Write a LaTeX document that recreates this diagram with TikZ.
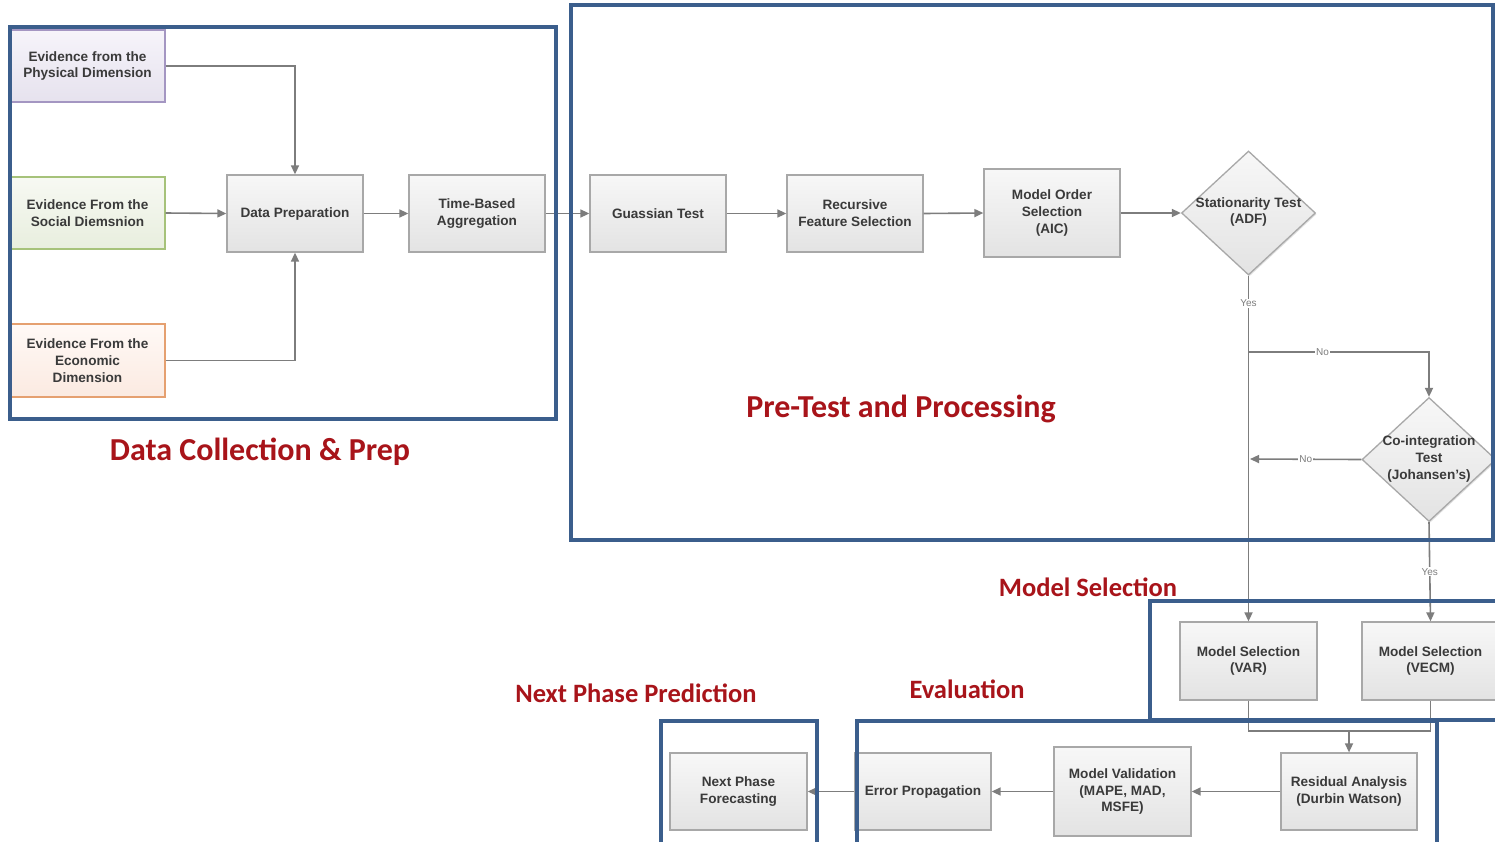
\documentclass[tikz,border=0pt]{standalone}
\usepackage{fontspec}
\setmainfont{Liberation Sans}
\newfontfamily\titlefont{Carlito}
\usetikzlibrary{arrows.meta,shapes.geometric,shadows}

\definecolor{framebl}{RGB}{59,94,140}
\definecolor{tred}{RGB}{168,20,26}
\definecolor{lnk}{RGB}{125,125,125}
\definecolor{bgray}{RGB}{168,168,168}
\definecolor{txtgray}{RGB}{58,58,58}

\tikzset{
  stepbox/.style={draw=bgray, line width=1.3pt, top color=white!97!black, bottom color=white!89!black,
    minimum width=136pt, minimum height=77pt, inner sep=2pt, align=center,
    font=\bfseries\fontsize{13.6}{16.8}\selectfont, text=txtgray,
    drop shadow={shadow xshift=1.2pt, shadow yshift=-1.2pt, opacity=0.25}},
  srcbox/.style={stepbox, minimum width=155pt, minimum height=72pt},
  decision/.style={diamond, draw=bgray, line width=1.3pt, top color=white!97!black, bottom color=white!89!black,
    minimum width=134pt, minimum height=124pt, inner sep=0pt,
    drop shadow={shadow xshift=1.2pt, shadow yshift=-1.2pt, opacity=0.25}},
  dtext/.style={align=center, font=\bfseries\fontsize{13.6}{16.8}\selectfont, text=txtgray, inner sep=0pt},
  conn/.style={draw=lnk, line width=1.6pt},
  arr/.style={conn, -{Triangle[length=9pt,width=8pt]}},
  yn/.style={fill=white, inner sep=1pt, text=lnk, font=\fontsize{10}{12}\selectfont},
  frame/.style={draw=framebl, line width=4pt},
  bigtitle/.style={text=tred, font=\titlefont\bfseries\fontsize{32}{37}\selectfont, inner sep=0pt},
  smalltitle/.style={text=tred, font=\titlefont\bfseries\fontsize{26.5}{30}\selectfont, inner sep=0pt}
}

\begin{document}
\begin{tikzpicture}[x=1pt,y=-1pt]
\clip (0,0) rectangle (1495,841);
\fill[white] (0,0) rectangle (1495,841);

% junction points of the branching connectors
\coordinate (br)  at (1248.5,352);
\coordinate (nj)  at (1250,459);
\coordinate (mj)  at (1349,731);

% --- data sources ---
\node[srcbox, draw={rgb,255:red,164;green,150;blue,194}, top color={rgb,255:red,246;green,244;blue,250}, bottom color={rgb,255:red,230;green,226;blue,238}] (phys) at (87.5,66) {Evidence from the\\Physical Dimension};
\node[srcbox, draw={rgb,255:red,166;green,194;blue,122}, top color={rgb,255:red,247;green,249;blue,243}, bottom color={rgb,255:red,232;green,238;blue,222}] (soc) at (87.5,213) {Evidence From the\\Social Diemsnion};
\node[srcbox, minimum height=73pt, draw={rgb,255:red,229;green,160;blue,112}, top color={rgb,255:red,255;green,249;blue,246}, bottom color={rgb,255:red,251;green,234;blue,225}] (eco) at (87.5,360.5) {Evidence From the\\Economic\\Dimension};

% --- processing chain ---
\node[stepbox] (dp)  at (295,213.5)  {Data Preparation};
\node[stepbox] (tb)  at (477,213.5)  {Time-Based\\Aggregation};
\node[stepbox] (gt)  at (658,213.5)  {Guassian Test};
\node[stepbox] (rfs) at (855,213.5)  {Recursive\\Feature Selection};
\node[stepbox, minimum height=88pt] (mos) at (1052,213) {Model Order\\Selection\\(AIC)};

\node[decision] (st) at (1248.5,213) {};
\node[dtext] (stt) at (1248.5,212) {Stationarity Test\\(ADF)};
\node[decision] (ci) at (1429,459.5) {};
\node[dtext] (cit) at (1429,459) {Co-integration\\Test\\(Johansen's)};

\node[stepbox, minimum width=137pt, minimum height=78pt] (var)  at (1248.5,661) {Model Selection\\(VAR)};
\node[stepbox, minimum width=137pt, minimum height=78pt] (vecm) at (1430.5,661) {Model Selection\\(VECM)};

\node[stepbox] (ra) at (1349,791.5) {Residual Analysis\\(Durbin Watson)};
\node[stepbox, minimum width=137pt, minimum height=89pt] (mv) at (1122.5,791.5) {Model Validation\\(MAPE, MAD,\\MSFE)};
\node[stepbox] (ep) at (923,791.5) {Error Propagation};
\node[stepbox, minimum width=137pt] (np) at (738.5,791.5) {Next Phase\\Forecasting};

% --- connectors ---
\draw[arr] (phys.east) -| (dp.north);
\draw[arr] (soc.east) -- (dp.west);
\draw[arr] (eco.east) -| (dp.south);
\draw[arr] (dp.east) -- (tb.west);
\draw[arr] (tb.east) -- (gt.west);
\draw[arr] (gt.east) -- (rfs.west);
\draw[arr] (rfs.east) -- (mos.west);
\draw[arr] (mos.east) -- (st.west);
\draw[arr] (st.south) -- node[yn, pos=0.08] {Yes} (var.north);
\draw[arr] (br) -| node[yn, pos=0.205] {No} (ci.north);
\draw[arr] (ci.west) -- node[yn] {No} (nj);
\draw[arr] (ci.south) -- node[yn] {Yes} (vecm.north);
\draw[conn] (var.south) |- (mj) -| (vecm.south);
\draw[arr] (mj) -- (ra.north);
\draw[arr] (ra.west) -- (mv.east);
\draw[arr] (mv.west) -- (ep.east);
\draw[arr] (ep.west) -- (np.east);

% --- stage frames ---
\draw[frame] (10,27) rectangle (556,419);
\draw[frame] (571,5) rectangle (1493,540);
\draw[frame] (1150,601) rectangle (1505,720);
\draw[frame] (857,721) rectangle (1437,860);
\draw[frame] (661,721) rectangle (817,860);

% --- stage titles ---
\node[bigtitle]   (t1) at (260,452)  {Data Collection \& Prep};
\node[bigtitle]   (t2) at (901,409)  {Pre-Test and Processing};
\node[smalltitle] (t3) at (1088,587) {Model Selection};
\node[smalltitle] (t4) at (636,693)  {Next Phase Prediction};
\node[smalltitle] (t5) at (967,689)  {Evaluation};
\end{tikzpicture}
\end{document}
